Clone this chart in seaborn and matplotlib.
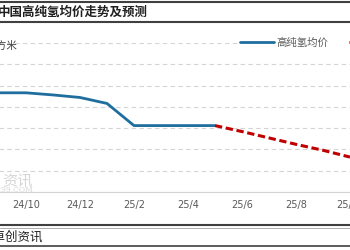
import matplotlib
matplotlib.use("Agg")
import matplotlib.pyplot as plt
import seaborn as sns
import pandas as pd
from matplotlib.lines import Line2D

sns.set_theme(style="white")
plt.rcParams['font.family'] = ['Noto Sans CJK SC', 'DejaVu Sans']

months = ["24/8", "24/9", "24/10", "24/11", "24/12", "25/1", "25/2", "25/3",
          "25/4", "25/5", "25/6", "25/7", "25/8", "25/9", "25/10"]
actual_values = [2.33, 2.33, 2.33, 2.28, 2.22, 2.08, 1.56, 1.56, 1.56, 1.56]
forecast_months = ["25/5", "25/6", "25/7", "25/8", "25/9", "25/10"]
forecast_values = [1.56, 1.42, 1.27, 1.12, 0.98, 0.82]
series_names = ["高纯氢均价", "预测"]

W, H = 350, 250
fig = plt.figure(figsize=(3.5, 2.5), dpi=100)

def fx(px):
    return px / W

def fy(py):
    return (H - py) / H

# axes mapping: index i -> pixel -28 + 27*i ; xlim -0.5..14.5
left_px = -28 + 27 * (-0.5)
right_px = -28 + 27 * 14.5
ax = fig.add_axes([fx(left_px), fy(192), (right_px - left_px) / W, (192 - 43) / H])

idx = {m: i for i, m in enumerate(months)}
df_a = pd.DataFrame({"x": [idx[m] for m in months[:len(actual_values)]], "y": actual_values})
df_f = pd.DataFrame({"x": [idx[m] for m in forecast_months], "y": forecast_values})

blue = "#1f6e9e"
red = "#c00000"
sns.lineplot(data=df_a, x="x", y="y", ax=ax, color=blue, linewidth=2.0, zorder=3)
sns.lineplot(data=df_f, x="x", y="y", ax=ax, color=red, linewidth=2.2,
             linestyle=(0, (2.4, 1.2)), zorder=3)

ax.set_xlim(-0.5, len(months) - 0.5)
ax.set_ylim(0, 3.5)
ax.set_yticks([0.5 * k for k in range(8)])
ax.yaxis.grid(True, color="#d4d4d4", linestyle=(0, (4, 3)), linewidth=0.8)
ax.xaxis.grid(False)
ax.set_axisbelow(True)
for s in ["top", "right", "left"]:
    ax.spines[s].set_visible(False)
ax.spines["bottom"].set_color("#d4d4d4")
ax.spines["bottom"].set_linewidth(0.8)
ax.set_xlabel("")
ax.set_ylabel("")

label_pos = list(range(0, len(months), 2))
ax.set_xticks(label_pos)
ax.set_xticklabels([months[i] for i in label_pos], fontfamily="DejaVu Sans",
                   fontsize=7, color="#595959")
ax.tick_params(axis="x", length=0, pad=6)
ax.set_xticks([i - 0.5 for i in label_pos if i > 0], minor=True)
ax.tick_params(axis="x", which="minor", length=3, color="#d4d4d4", width=0.8)
ax.tick_params(axis="y", left=False, labelsize=7, labelcolor="#595959")

handles = [Line2D([], [], color=blue, lw=2.0),
           Line2D([], [], color=red, lw=2.2, linestyle=(0, (2.4, 1.2)))]
leg = ax.legend(handles, series_names, ncol=2, loc="center left",
                bbox_to_anchor=(fx(238), fy(43)), bbox_transform=fig.transFigure,
                frameon=True, fancybox=False, framealpha=1, edgecolor="white",
                fontsize=7.5, handlelength=3.3, handletextpad=0.2,
                columnspacing=2.0, borderpad=0.2, borderaxespad=0)
for t in leg.get_texts():
    t.set_color("#595959")

# unit label
fig.text(fx(17), fy(45), "单位：元/立方米", ha="right", va="center", fontsize=7.5, color="#404040")

# watermark
fig.text(fx(2), fy(181), "资讯", ha="left", va="center", fontsize=11,
         color="#d6d6d6")
fig.text(fx(33), fy(189.5), "SCI99.COM", ha="right", va="center", fontsize=5.5,
         color="#d6d6d6", fontfamily="DejaVu Serif")

# title band
fig.add_artist(Line2D([0, 1], [fy(1.5), fy(1.5)], color="#404040", lw=1.5))
fig.add_artist(Line2D([0, 1], [fy(22), fy(22)], color="#404040", lw=1.5))
fig.text(fx(-2), fy(12.5), "中国高纯氢均价走势及预测", ha="left", va="center",
         fontsize=9, fontweight="bold", color="#202020")

# source band
fig.add_artist(Line2D([0, 1], [fy(225), fy(225)], color="#404040", lw=1.5))
fig.add_artist(Line2D([0, 1], [fy(227.5), fy(227.5)], color="#a0a0a0", lw=0.6))
fig.add_artist(Line2D([0, 1], [fy(246), fy(246)], color="#404040", lw=1.2))
fig.text(fx(43), fy(237), "来源：卓创资讯", ha="right", va="center", fontsize=9,
         color="#202020")

fig.savefig("out.png", dpi=100)
